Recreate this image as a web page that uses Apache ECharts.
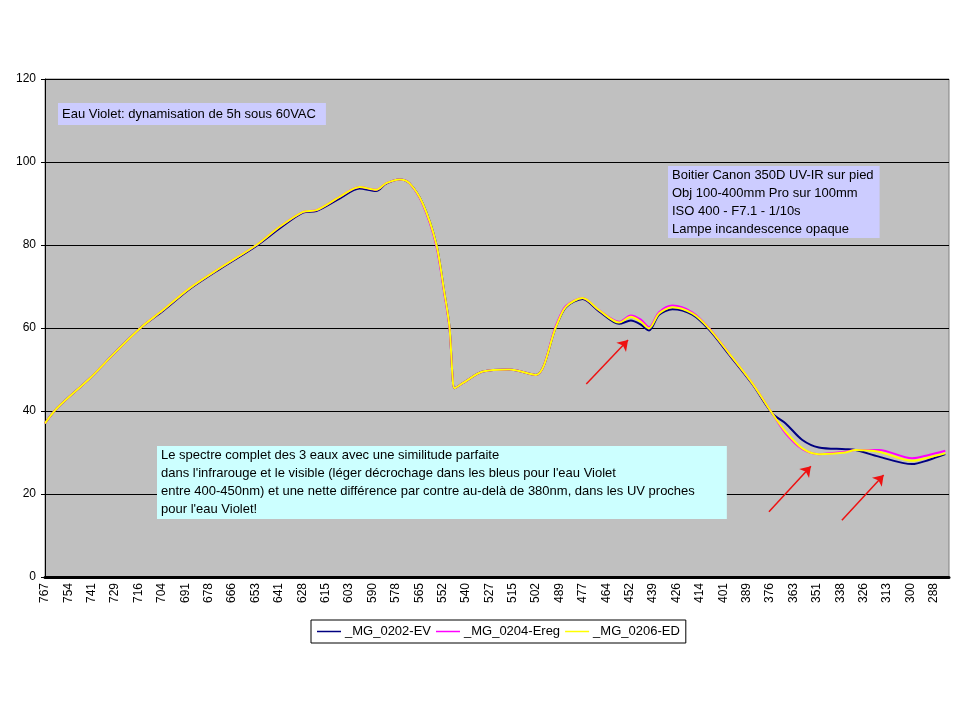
<!DOCTYPE html>
<html>
<head>
<meta charset="utf-8">
<script src="https://cdn.jsdelivr.net/npm/echarts@6/dist/echarts.min.js"></script>
<style>
html,body{margin:0;padding:0;background:#fff;}
#chart{width:960px;height:720px;}
</style>
</head>
<body>
<div id="chart"></div>
<script>
// Wavelengths (nm)
const wavelengths = [767, 760.7, 742.8, 728.8, 715.9, 703.8, 689.0, 672.9, 653.1, 640.6, 628.0, 620.8, 608.3, 597.6, 588.6, 583.2, 576.0, 570.7, 563.5, 556.3, 551.8, 549.1, 547.4, 546.4, 542.0, 531.2, 516.9, 502.5, 491.7, 486.4, 477.4, 468.5, 457.7, 451.4, 446.0, 441.6, 436.2, 429.0, 418.3, 409.3, 398.5, 386.0, 375.2, 368.0, 359.0, 350.1, 335.8, 330.4, 317.8, 299.9, 290.9, 282.0];
const evValues   = [37.0, 40.6, 47.9, 54.3, 59.9, 64.0, 69.4, 74.2, 79.8, 84.0, 87.8, 88.2, 91.2, 93.6, 93.0, 94.8, 95.8, 94.9, 90.0, 80.4, 68.4, 60.3, 48.0, 45.5, 46.7, 49.5, 50.0, 48.7, 60.3, 65.0, 67.0, 64.0, 61.0, 61.8, 60.8, 59.4, 63.2, 64.5, 63.2, 59.6, 53.6, 46.5, 39.4, 37.0, 33.0, 31.2, 30.8, 30.6, 29.0, 27.2, 28.2, 29.6];
const eregValues = [37.0, 40.6, 47.9, 54.3, 59.9, 64.2, 69.6, 74.4, 80.0, 84.4, 88.0, 88.4, 91.6, 94.0, 93.3, 94.9, 95.8, 94.9, 89.8, 80.0, 68.0, 60.0, 48.0, 45.5, 46.7, 49.5, 50.0, 48.7, 60.6, 65.3, 67.2, 64.3, 61.5, 63.0, 62.0, 60.2, 63.8, 65.4, 63.8, 60.0, 53.9, 46.7, 39.4, 34.6, 30.8, 29.6, 30.2, 30.6, 30.6, 28.6, 29.4, 30.4];
const edValues   = [37.0, 40.6, 47.9, 54.3, 59.9, 64.2, 69.6, 74.4, 80.0, 84.4, 88.0, 88.4, 91.6, 94.0, 93.3, 94.9, 95.8, 94.9, 90.0, 80.4, 68.4, 60.3, 48.0, 45.5, 46.7, 49.5, 50.0, 48.7, 60.3, 65.1, 67.2, 64.3, 61.3, 62.7, 61.5, 59.9, 63.5, 65.0, 63.5, 59.9, 53.9, 46.7, 39.4, 35.0, 31.0, 29.6, 30.0, 30.6, 30.2, 28.0, 28.8, 29.8];
const seriesNames = ['_MG_0202-EV', '_MG_0204-Ereg', '_MG_0206-ED'];
const seriesColors = ['#000080', '#ff00ff', '#ffff00'];
// Axis ticks
const xStart = 767, xEnd = 280, xStep = 12.6;
const yTicks = [0, 20, 40, 60, 80, 100, 120];
// Annotation arrows: [from [nm, value], to [nm, value]]
const arrows = [
  [[475.4, 46.5], [452.9, 57.1]],
  [[377.0, 15.7], [354.4, 26.7]],
  [[337.7, 13.7], [315.2, 24.6]]
];
const note1 = 'Eau Violet: dynamisation de 5h sous 60VAC';
const note2 = ['Boitier Canon 350D UV-IR sur pied', 'Obj 100-400mm Pro sur 100mm', 'ISO 400 - F7.1 - 1/10s', 'Lampe incandescence opaque'];
const note3 = ['Le spectre complet des 3 eaux avec une similitude parfaite', "dans l'infrarouge et le visible (léger décrochage dans les bleus pour l'eau Violet", "entre 400-450nm) et une nette différence par contre au-delà de 380nm, dans les UV proches", "pour l'eau Violet!"];

const FONT = '"Liberation Sans", Arial, sans-serif';
const allValues = [evValues, eregValues, edValues];

function pairs(vals) {
  return wavelengths.map((w, i) => [-w, vals[i]]);
}

const series = seriesNames.map((name, k) => ({
  name: name,
  type: 'line',
  data: pairs(allValues[k]),
  showSymbol: false,
  symbol: 'none',
  smooth: 0.3,
  lineStyle: { color: seriesColors[k], width: 2 },
  itemStyle: { color: seriesColors[k] },
  z: 2 + k,
  animation: false
}));

series[2].markLine = {
  silent: true,
  symbol: ['none', 'arrow'],
  symbolSize: 10,
  label: { show: false },
  lineStyle: { color: '#ee1111', width: 1.5, type: 'solid' },
  data: arrows.map(a => [{ coord: [-a[0][0], a[0][1]] }, { coord: [-a[1][0], a[1][1]] }]),
  animation: false
};

const chart = echarts.init(document.getElementById('chart'), null, { renderer: 'canvas' });
chart.setOption({
  animation: false,
  backgroundColor: '#ffffff',
  grid: {
    left: 45, right: 11, top: 79, bottom: 143,
    show: true, backgroundColor: '#c0c0c0', borderColor: '#808080', borderWidth: 1
  },
  xAxis: {
    type: 'value',
    min: -xStart, max: -xEnd, interval: xStep,
    axisLine: { show: true, onZero: false, lineStyle: { color: '#000', width: 3 } },
    axisTick: { show: false },
    splitLine: { show: false },
    axisLabel: {
      rotate: 90, margin: 6, color: '#000', fontSize: 12, fontFamily: FONT,
      formatter: function (v) {
        const w = -v;
        const k = (xStart - w) / xStep;
        if (Math.abs(k - Math.round(k)) > 1e-3) return '';
        return String(Math.floor(w + 1e-6));
      }
    }
  },
  yAxis: {
    type: 'value',
    min: yTicks[0], max: yTicks[yTicks.length - 1], interval: 20,
    axisLine: { show: true, lineStyle: { color: '#000', width: 1 } },
    axisTick: { show: true, length: 4, lineStyle: { color: '#000' } },
    splitLine: { show: true, lineStyle: { color: '#000', width: 1 } },
    axisLabel: { color: '#000', fontSize: 12, fontFamily: FONT, margin: 9 }
  },
  legend: {
    left: 311, top: 620,
    data: seriesNames,
    icon: 'rect',
    backgroundColor: '#ffffff',
    borderColor: '#000', borderWidth: 1,
    padding: [5, 6],
    itemGap: 5, itemWidth: 24, itemHeight: 1.5,
    textStyle: { color: '#000', fontSize: 13, fontFamily: FONT, padding: [0, 0, 0, -1] }
  },
  graphic: [
    {
      type: 'text', left: 58, top: 103, z: 10,
      style: {
        text: note1, font: '13px ' + FONT, fill: '#000',
        backgroundColor: '#ccccff', padding: [4, 10, 4, 4], lineHeight: 14
      }
    },
    {
      type: 'text', left: 668, top: 166, z: 10,
      style: {
        text: note2.join('\n'), font: '13px ' + FONT, fill: '#000',
        backgroundColor: '#ccccff', padding: [0, 6, 0, 4], lineHeight: 18
      }
    },
    {
      type: 'text', left: 157, top: 446, z: 10,
      style: {
        text: note3.join('\n'), font: '13px ' + FONT, fill: '#000',
        backgroundColor: '#ccffff', padding: [0, 32, 1, 4], lineHeight: 18
      }
    }
  ],
  series: series
});
</script>
</body>
</html>
